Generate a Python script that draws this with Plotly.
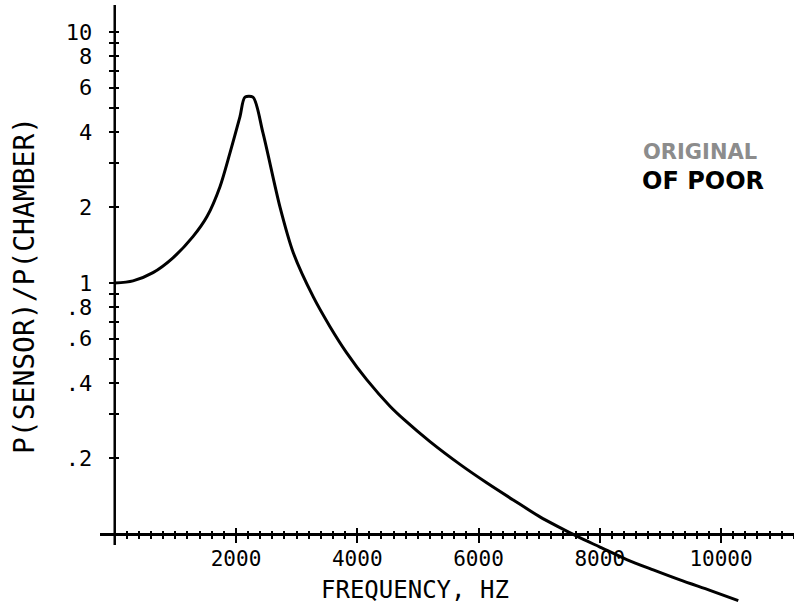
import math
import plotly.graph_objects as go

# Pressure ratio between sensor and chamber versus frequency
freq_hz = [0, 301, 631, 961, 1290, 1522, 1736, 1901, 2066, 2148, 2280, 2445,
           2725, 2945, 3275, 3551, 3826, 4156, 4540, 4788, 5200, 5695, 6135,
           6574, 7014, 7344, 7620, 8003, 8445, 8883, 9323, 9818, 10285]
ratio = [1.00, 1.02, 1.10, 1.26, 1.53, 1.84, 2.42, 3.30, 4.60, 5.5, 5.5, 3.96,
         2.01, 1.32, 0.88, 0.67, 0.527, 0.412, 0.323, 0.2835, 0.2334, 0.1894,
         0.16, 0.1366, 0.117, 0.106, 0.098, 0.0887, 0.0791, 0.0719, 0.0656,
         0.0596, 0.0543]

x_tick_vals = [2000, 4000, 6000, 8000, 10000]
x_tick_text = ["2000", "4000", "6000", "8000", "10000"]
x_minor_vals = list(range(200, 11201, 200))

y_tick_vals = [0.2, 0.3, 0.4, 0.5, 0.6, 0.7, 0.8, 0.9,
               1, 2, 3, 4, 5, 6, 7, 8, 9, 10]
y_tick_text = [".2", "", ".4", "", ".6", "", ".8", "",
               "1", "2", "", "4", "", "6", "", "8", "", "10"]

X_RANGE = [-243, 11204]
Y_RANGE = [-1.2869, 1.1076]          # log10 units
X_AXIS_AT = 0.1                      # ratio where the frequency axis sits
Y_AXIS_TOP, Y_AXIS_BOTTOM = 12.8, 0.0904

FONT = "DejaVu Sans Mono"
x_pos = (math.log10(X_AXIS_AT) - Y_RANGE[0]) / (Y_RANGE[1] - Y_RANGE[0])
y_pos = (0 - X_RANGE[0]) / (X_RANGE[1] - X_RANGE[0])

fig = go.Figure()

# response curve
fig.add_trace(go.Scatter(x=freq_hz, y=ratio, mode="lines",
                         line=dict(color="black", width=3, shape="spline",
                                   smoothing=0.8),
                         xaxis="x", yaxis="y", showlegend=False,
                         cliponaxis=False, hoverinfo="skip"))

# vertical axis line (stops a little below the frequency axis)
fig.add_trace(go.Scatter(x=[0, 0], y=[Y_AXIS_BOTTOM, Y_AXIS_TOP], mode="lines",
                         line=dict(color="black", width=2.5),
                         xaxis="x2", yaxis="y2", showlegend=False,
                         cliponaxis=False, hoverinfo="skip"))

common_x = dict(range=X_RANGE, anchor="free", position=x_pos,
                tickmode="array", tickvals=x_tick_vals,
                showgrid=False, zeroline=False, tickcolor="black",
                tickwidth=2)
common_y = dict(type="log", range=Y_RANGE, anchor="free", position=y_pos,
                tickmode="array", tickvals=y_tick_vals,
                showgrid=False, zeroline=False, tickcolor="black",
                tickwidth=2)

fig.update_layout(
    width=794, height=606,
    margin=dict(l=100, r=0, t=5, b=0),
    paper_bgcolor="white", plot_bgcolor="white",
    font=dict(family=FONT, color="black", size=20),
    xaxis=dict(**common_x, ticktext=x_tick_text, ticks="outside", ticklen=7,
               showline=True, linecolor="black", linewidth=2.5,
               ticklabelstandoff=-2,
               tickfont=dict(family=FONT, size=21, color="black"),
               minor=dict(tickmode="array", tickvals=x_minor_vals,
                          ticks="outside", ticklen=3, tickwidth=2,
                          tickcolor="black")),
    xaxis2=dict(**common_x, overlaying="x", ticks="inside", ticklen=6,
                showticklabels=False, showline=False,
                minor=dict(tickmode="array", tickvals=x_minor_vals,
                           ticks="inside", ticklen=3, tickwidth=2,
                           tickcolor="black")),
    yaxis=dict(**common_y, ticktext=y_tick_text, ticks="outside", ticklen=6,
               showline=False, ticklabelstandoff=12,
               tickfont=dict(family=FONT, size=22, color="black")),
    yaxis2=dict(**common_y, overlaying="y", ticks="inside", ticklen=3,
                showticklabels=False, showline=False),
    annotations=[
        dict(text="FREQUENCY, HZ", xref="paper", yref="paper",
             x=0.4539, y=0.0266, xanchor="center", yanchor="middle",
             showarrow=False, font=dict(family=FONT, size=24, color="black")),
        dict(text="P(SENSOR)/P(CHAMBER)", xref="paper", yref="paper",
             x=-0.1095, y=0.5324, xanchor="center", yanchor="middle",
             textangle=-90, showarrow=False,
             font=dict(family=FONT, size=28, color="black")),
        dict(text="<b>ORIGINAL</b>", xref="paper", yref="paper",
             x=0.7795, y=0.7554, xanchor="left", yanchor="middle",
             showarrow=False,
             font=dict(family="DejaVu Sans", size=21, color="#8c8c8c")),
        dict(text="<b>OF POOR</b>", xref="paper", yref="paper",
             x=0.7780, y=0.7072, xanchor="left", yanchor="middle",
             showarrow=False,
             font=dict(family="DejaVu Sans", size=24, color="black")),
    ],
)

fig.write_html("out.html")
